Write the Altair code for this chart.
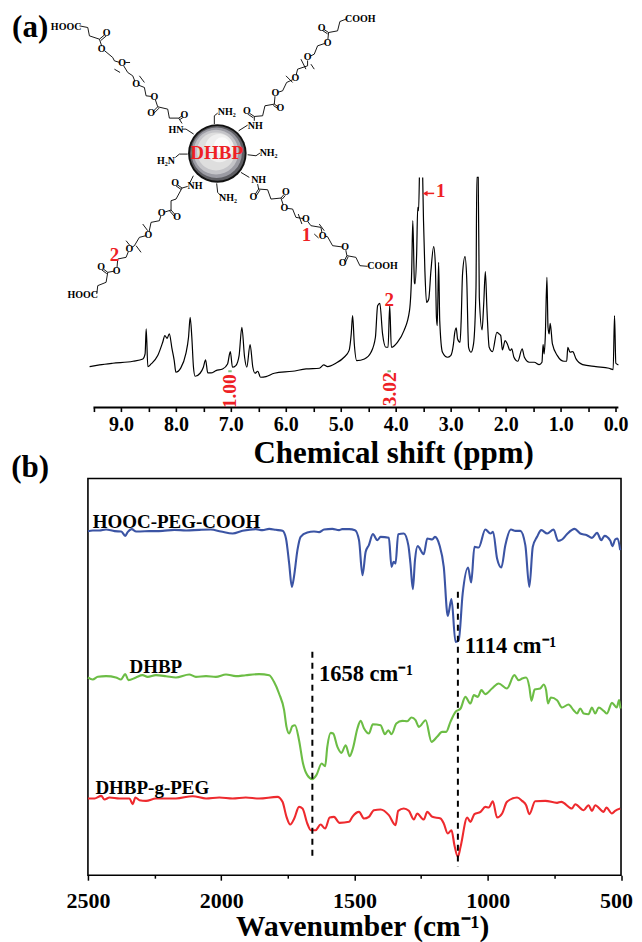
import altair as alt
import pandas as pd

FONT = "Liberation Serif"

# ---------- 1H NMR trace: chemical shift (ppm), signal position (larger = lower)
nmr_ppm = [9.57,9.39,9.15,8.78,8.60,8.56,8.54,8.51,8.45,8.33,8.24,8.20,8.16,8.12,8.07,8.03,8.00,7.91,7.82,7.77,7.74,7.71,7.68,7.65,7.56,7.50,7.46,7.42,7.36,7.27,7.15,7.06,7.01,6.97,6.91,6.85,6.80,6.75,6.71,6.65,6.60,6.56,6.51,6.46,6.36,6.21,5.88,5.63,5.39,5.31,5.24,5.09,4.94,4.85,4.81,4.785,4.754,4.71,4.57,4.45,4.37,4.33,4.29,4.24,4.18,4.14,4.11,4.08,3.97,3.85,3.75,3.71,3.69,3.66,3.65,3.62,3.60,3.585,3.57]
nmr_sig = [588,583,578,572,565,550,475,588,580,555,515,495,503,490,535,570,605,592,550,500,440,500,590,617,608,590,568,607,607,600,595,580,543,590,585,555,470,560,590,522,590,608,602,620,618,608,602,595,593,583,588,578,560,540,490,435,520,570,565,545,500,405,398,490,530,530,405,530,515,480,420,300,150,335,340,250,110,120,20]
nmr_ppm2 = [3.51,3.495,3.47,3.44,3.40,3.36,3.31,3.28,3.26,3.245,3.22,3.20,3.15,3.06,3.00,2.95,2.93,2.90,2.875,2.83,2.81,2.785,2.74,2.71,2.675,2.63,2.585,2.54,2.525,2.50,2.48,2.43,2.40,2.37,2.34,2.30,2.24,2.16,2.12,2.09,2.06,2.01,1.97,1.92,1.89,1.85,1.78,1.70,1.66,1.57,1.48,1.39,1.34,1.32,1.30,1.28,1.25,1.23,1.21,1.19,1.15,1.06,0.94,0.89,0.87,0.83,0.78,0.72,0.60,0.36,0.12,0.045,0.02,-0.004,-0.05]
nmr_sig2 = [20,150,300,395,385,300,228,280,440,465,275,450,545,560,555,520,490,472,505,515,450,310,258,320,530,545,520,350,20,20,380,478,400,303,420,530,543,485,490,495,538,510,520,540,535,560,572,535,560,575,575,582,575,522,550,500,320,470,490,458,520,555,572,572,530,545,543,565,582,588,593,597,435,578,583]

# ---------- FTIR traces
blue_wn = [2500,2482,2457,2432,2400,2375,2360,2351,2336,2319,2270,2220,2176,2132,2082,2039,2001,1957,1920,1870,1845,1820,1795,1770,1757,1745,1735,1727,1714,1702,1677,1652,1633,1614,1583,1558,1546,1520,1498,1483,1470,1458,1446,1431,1414,1402,1371,1361,1353,1346,1336,1315,1298,1290,1281,1273,1263,1240,1227,1208,1198,1181,1165,1150,1136,1121,1109,1094,1074,1062,1050,1034,1009,990,980,965,949,934,913,896,878,859,844,831,815,799,777,753,736,721,703,674,653,628,609,590,574,562,540,532,522,513,503]
blue_val = [183,181,181,178,183,184,197,186,177,184,183,182,179,181,179,178,184,190,182,177,180,176,179,182,205,280,350,320,240,200,187,184,186,178,176,180,177,177,180,210,315,245,225,192,210,200,203,290,275,280,192,190,225,280,357,270,228,252,205,208,200,225,290,437,387,515,510,370,292,337,230,232,178,190,185,265,292,225,178,182,182,225,350,230,200,180,190,178,212,208,192,176,190,195,203,188,210,197,212,228,208,205,240]

green_wn = [2500,2482,2463,2432,2395,2376,2360,2348,2320,2295,2276,2245,2207,2170,2120,2095,2057,2020,1982,1945,1908,1858,1820,1802,1783,1764,1755,1745,1733,1723,1708,1693,1677,1658,1643,1623,1610,1602,1589,1580,1564,1549,1533,1518,1506,1489,1477,1464,1446,1431,1402,1386,1373,1361,1343,1321,1302,1286,1271,1258,1233,1211,1190,1171,1156,1140,1121,1102,1084,1065,1052,1037,1024,1009,984,959,928,900,884,871,856,844,836,824,803,790,781,774,763,740,721,697,678,665,653,640,622,609,597,584,565,553,534,516,507,502]
green_val = [622,628,620,618,622,628,612,630,622,615,620,615,618,622,613,620,618,620,613,618,615,612,615,635,670,720,770,790,768,765,810,880,915,927,915,880,888,830,788,790,830,848,825,858,835,775,752,775,790,762,765,792,780,792,760,752,753,742,750,770,750,815,800,785,785,755,725,715,680,700,675,680,660,672,655,640,655,615,630,625,622,650,692,658,655,643,660,700,682,690,712,703,720,730,715,730,732,712,730,712,722,730,698,712,690,715]

red_wn = [2500,2475,2450,2438,2419,2382,2344,2332,2322,2307,2282,2245,2207,2170,2107,2057,2007,1957,1908,1858,1789,1770,1755,1741,1726,1708,1695,1677,1664,1646,1627,1610,1593,1577,1556,1520,1508,1483,1464,1446,1427,1402,1371,1346,1336,1315,1296,1277,1265,1240,1227,1208,1177,1165,1150,1136,1125,1112,1102,1077,1065,1050,1027,1009,996,981,965,946,928,890,871,856,844,822,784,740,724,684,672,640,622,609,597,565,555,534,522,503]
red_val = [985,985,977,988,982,985,985,1002,982,990,992,985,985,985,978,985,982,985,982,985,980,995,1040,1063,1045,1010,1015,1060,1080,1080,1063,1075,1042,1040,1058,1055,1040,1025,1045,1040,1020,1018,1035,1065,1022,1015,1022,1048,1030,1048,1025,1040,1045,1060,1090,1080,1125,1160,1130,1042,1055,1032,1025,1010,1012,993,1042,1030,995,982,992,1005,1032,993,992,998,995,1015,1002,1020,1005,1022,1005,1025,1012,1030,1022,1015]

# ---------- IR annotations
ir_labels = ["HOOC-PEG-COOH", "DHBP", "DHBP-g-PEG"]
ir_label_wn = [2482, 2344, 2472]
ir_label_y = [157, 590, 953]
peak_labels = ["1658 cm⁻¹", "1114 cm⁻¹"]
peak_label_wn = [1633, 1086]
peak_label_y = [612, 527]
peak_wn = [1658, 1112]
peak_top = [545, 365]
peak_bottom = [1165, 1190]

# ---------- molecule sketch (positions in sketch units)
arm_ul = [(583,400),(560,385),(548,385)], [(548,368),(538,352),(510,352),(505,325),(475,318),(465,288),(440,285),(435,260),(410,250),(400,225),(385,215),(368,187),(345,180),(340,170),(310,145),(300,115),(270,105),(265,80),(240,75)]
arm_ur = [(718,390),(745,373)], [(765,360),(765,347),(790,345),(797,315),(825,310),(828,277),(850,270),(862,245),(888,233),(895,205),(925,195),(925,170),(945,160),(955,135),(985,125),(988,95),(1015,90),(1022,62),(1040,55)]
arm_lr = [(725,515),(750,530)], [(775,550),(778,565),(805,567),(815,595),(845,592),(855,622),(880,625),(890,650),(920,655),(935,675),(965,680),(970,705),(985,708),(1000,735),(1038,740),(1043,765),(1070,770),(1082,795),(1105,797)]
arm_ll = [(582,525),(572,545)], [(565,557),(548,562),(530,595),(515,600),(515,628),(487,637),(480,660),(455,665),(447,703),(420,710),(405,735),(390,745),(380,770),(355,775),(352,810),(325,815),(320,845),(295,855),(292,880)]
amine_bonds = [[(645,370),(645,345),(655,337)], [(745,462),(770,465),(782,457)], [(565,460),(540,460),(528,470)], [(652,548),(655,575),(665,585)]]
brackets = [[(420,225),(435,245)], [(378,185),(392,185)], [(345,205),(362,215)], [(860,225),(880,245)], [(905,175),(920,205)], [(935,190),(945,205)], [(897,640),(908,670)], [(960,670),(975,690)], [(945,700),(958,712)], [(430,670),(445,690)], [(410,735),(425,755)], [(380,720),(392,735)]]
carbonyls = [[(538,352),(553,342)], [(542,356),(557,346)], [(475,318),(458,335)], [(479,322),(462,339)], [(300,115),(318,100)], [(304,119),(322,104)],
             [(765,347),(747,335)], [(762,351),(744,339)], [(825,310),(840,320)], [(822,314),(837,324)], [(988,95),(970,83)], [(985,99),(967,87)],
             [(778,565),(765,585)], [(782,568),(769,588)], [(845,592),(857,578)], [(849,595),(861,581)], [(1043,765),(1033,785)], [(1047,768),(1037,788)],
             [(548,562),(531,550)], [(545,566),(528,554)], [(515,628),(530,645)], [(511,631),(526,648)], [(325,815),(309,803)], [(322,819),(306,807)]]
oxygens_x = [555,455,465,410,368,307,322, 743,843,828,888,925,985,967, 762,860,855,920,970,1038,1030, 527,533,487,447,390,352,305]
oxygens_y = [342,338,288,250,187,145,97, 332,323,277,233,170,125,80, 588,575,622,655,705,740,788, 547,648,637,703,745,810,800]
groups = ["HOOC","COOH","COOH","HOOC","HN","NH","NH","NH","NH₂","NH₂","H₂N","NH₂"]
groups_x = [200,1083,1150,250,530,768,778,587,682,808,500,686]
groups_y = [77,55,797,883,387,377,538,557,335,457,480,592]
sphere_x = [654,654,652,650,650,660,668]
sphere_y = [458,458,456,454,452,442,434]
sphere_size = [3434,3000,2550,2000,1450,800,260]
sphere_col = ["#111111","#5e5e63","#9b9ba3","#c4c4c8","#dedede","#efefef","#fbfbfb"]
red_labels = ["DHBP","1","2","2","1"]
red_x = [652,922,345,1170,1325]
red_y = [457,702,762,898,572]
red_size = [19,19,19,19,19]
arrow_x = [1278,1305]
arrow_y = [578,578]
integrals = ["1.00","3.02"]
integral_x = [692,1172]
integral_y = [1172,1166]
int_tick_x = [692,1170]
int_tick_y = [1112,1112]
panel_a = ["(a)"]
panel_a_x = [92]
panel_a_y = [80]
panel_b = ["(b)"]
panel_b_x = [92]
panel_b_y = [-5]

W, H_A, H_B = 533.5, 397, 397
pX = alt.Scale(domain=[9.6, -0.098], nice=False, zero=False)
pY = alt.Scale(domain=[711, -480], nice=False, zero=False)
sX = alt.Scale(domain=[265.5, 1866], nice=False, zero=False)
sY = alt.Scale(domain=[1221, 30], nice=False, zero=False)
irX = alt.Scale(domain=[2500, 500], nice=False, zero=False)
irY = alt.Scale(domain=[1215, 25], nice=False, zero=False)


def polylines(lines):
    rows = []
    for k, ln in enumerate(lines):
        for i, (x, y) in enumerate(ln):
            rows.append({"k": k, "i": i, "x": x, "y": y})
    return pd.DataFrame(rows)


def sx(f="x"):
    return alt.X(f"{f}:Q", scale=sX, axis=None)


def sy(f="y"):
    return alt.Y(f"{f}:Q", scale=sY, axis=None)


def ix(f="x"):
    return alt.X(f"{f}:Q", scale=irX, axis=None)


def iy(f="y"):
    return alt.Y(f"{f}:Q", scale=irY, axis=None)


# --- panel (a)
nmr_df = pd.DataFrame({
    "ppm": nmr_ppm + nmr_ppm2,
    "sig": nmr_sig + nmr_sig2,
    "seg": ["a"] * len(nmr_ppm) + ["b"] * len(nmr_ppm2),
    "i": list(range(len(nmr_ppm) + len(nmr_ppm2))),
})
nmr_axis = alt.Axis(
    values=[9.5 - 0.5 * i for i in range(20)], labelExpr="abs(datum.value % 1) < 0.01 ? format(datum.value, '.1f') : ''",
    domain=False, grid=False, tickColor="black", tickWidth=1.6, tickSize=4,
    labelFont=FONT, labelFontSize=20, labelFontWeight="bold", labelColor="black", labelPadding=3,
    labelFlush=False, labelOverlap=False, labelAngle=0,
    title="Chemical shift (ppm)", titleFont=FONT, titleFontSize=31, titleFontWeight="bold", titleColor="black",
    titleX=305.5, titleY=45.5, titleAlign="center", titleBaseline="middle",
)
nmr_line = alt.Chart(nmr_df).mark_line(color="black", strokeWidth=1.2, interpolate="monotone").encode(
    x=alt.X("ppm:Q", scale=pX, axis=nmr_axis),
    y=alt.Y("sig:Q", scale=pY, axis=None),
    detail="seg:N", order="i:Q",
)
axis_rule = alt.Chart(pd.DataFrame({"a": [9.5], "b": [-0.05]})).mark_rule(color="black", strokeWidth=2).encode(
    x=alt.X("a:Q", scale=pX, axis=None), x2="b:Q", y=alt.value(H_A),
)
chains = [c for arm in (arm_ul, arm_ur, arm_lr, arm_ll) for c in arm]
bonds = alt.Chart(polylines(chains + amine_bonds + brackets + carbonyls)).mark_line(color="black", strokeWidth=0.9).encode(
    x=sx(), y=sy(), detail="k:N", order="i:Q")
ox_df = pd.DataFrame({"x": oxygens_x, "y": oxygens_y, "t": ["O"] * len(oxygens_x)})
ox_bg = alt.Chart(ox_df).mark_circle(color="white", size=36, opacity=1).encode(x=sx(), y=sy())
ox_text = alt.Chart(ox_df).mark_text(font=FONT, fontSize=10, fontWeight="bold", color="black").encode(x=sx(), y=sy(), text="t:N")
gr_df = pd.DataFrame({"x": groups_x, "y": groups_y, "t": groups})
gr_text = alt.Chart(gr_df).mark_text(font=FONT, fontSize=10, fontWeight="bold", color="black").encode(x=sx(), y=sy(), text="t:N")
sph_df = pd.DataFrame({"x": sphere_x, "y": sphere_y, "s": sphere_size, "c": sphere_col, "i": range(len(sphere_x))})
sphere = alt.Chart(sph_df).mark_circle(opacity=1).encode(
    x=sx(), y=sy(), size=alt.Size("s:Q", scale=None, legend=None), color=alt.Color("c:N", scale=None, legend=None), order="i:Q")
red_df = pd.DataFrame({"x": red_x, "y": red_y, "t": red_labels, "s": red_size})
red_text = alt.Chart(red_df).mark_text(font=FONT, fontWeight="bold", color="#ee2024").encode(
    x=sx(), y=sy(), text="t:N", size=alt.Size("s:Q", scale=None, legend=None))
arrow = alt.Chart(pd.DataFrame({"x": arrow_x, "y": arrow_y, "i": [0, 1]})).mark_line(color="#ee2024", strokeWidth=1.5).encode(x=sx(), y=sy(), order="i:Q")
arrow_head = alt.Chart(pd.DataFrame({"x": arrow_x[:1], "y": arrow_y[:1]})).mark_point(
    shape="triangle-left", filled=True, color="#ee2024", size=30, opacity=1).encode(x=sx(), y=sy())
int_df = pd.DataFrame({"x": integral_x, "y": integral_y, "t": integrals})
int_text = alt.Chart(int_df).mark_text(font=FONT, fontSize=19.5, fontWeight="bold", color="#ee2024", angle=270).encode(x=sx(), y=sy(), text="t:N")
int_tick = alt.Chart(pd.DataFrame({"x": int_tick_x, "y": int_tick_y})).mark_point(shape="stroke", color="#7fbf7f", size=12, opacity=1).encode(x=sx(), y=sy())
a_text = alt.Chart(pd.DataFrame({"x": panel_a_x, "y": panel_a_y, "t": panel_a})).mark_text(
    font=FONT, fontSize=31, fontWeight="bold", color="black").encode(x=sx(), y=sy(), text="t:N")

top = alt.layer(
    nmr_line, axis_rule, bonds, ox_bg, ox_text, gr_text, sphere, red_text, arrow, arrow_head, int_text, int_tick, a_text
).resolve_scale(x="independent", y="independent").properties(
    width=W, height=H_A, view=alt.ViewBackground(stroke=None))

# --- panel (b)
ir_df = pd.concat([
    pd.DataFrame({"wn": blue_wn, "v": blue_val, "s": "HOOC-PEG-COOH", "c": "#3b54a4", "i": range(len(blue_wn))}),
    pd.DataFrame({"wn": green_wn, "v": green_val, "s": "DHBP", "c": "#6cbd45", "i": range(len(green_wn))}),
    pd.DataFrame({"wn": red_wn, "v": red_val, "s": "DHBP-g-PEG", "c": "#ee2a2e", "i": range(len(red_wn))}),
])
ir_axis = alt.Axis(
    values=[2500, 2250, 2000, 1750, 1500, 1250, 1000, 750, 500],
    labelExpr="datum.value % 500 == 0 ? datum.label : ''", format="d",
    grid=False, domain=False, tickColor="black", tickWidth=1.5,
    tickSize={"condition": {"test": "datum.value % 500 == 0", "value": 5}, "value": 3},
    labelOffset={"condition": {"test": "datum.value == 500", "value": -5}, "value": 0},
    labelFont=FONT, labelFontSize=22, labelFontWeight="bold", labelColor="black", labelPadding=10,
    labelFlush=False, labelOverlap=False, labelAngle=0,
    title="Wavenumber (cm⁻¹)", titleFont=FONT, titleFontSize=29.5, titleFontWeight="bold", titleColor="black",
    titleX=274.5, titleY=51.5, titleAlign="center", titleBaseline="middle",
)
ir_lines = alt.Chart(ir_df).mark_line(strokeWidth=2.1, interpolate="monotone").encode(
    x=alt.X("wn:Q", scale=irX, axis=ir_axis),
    y=iy("v"),
    color=alt.Color("c:N", scale=None, legend=None),
    detail="s:N", order="i:Q",
)
drop = alt.Chart(pd.DataFrame({"x": peak_wn, "a": peak_top, "b": peak_bottom})).mark_rule(
    color="black", strokeWidth=2, strokeDash=[6, 5]).encode(
    x=ix(), y=iy("a"), y2="b:Q")
names = alt.Chart(pd.DataFrame({"x": ir_label_wn, "y": ir_label_y, "t": ir_labels})).mark_text(
    font=FONT, fontSize=19, fontWeight="bold", color="black", align="left").encode(
    x=ix(), y=iy(), text="t:N")
peaks = alt.Chart(pd.DataFrame({"x": peak_label_wn, "y": peak_label_y, "t": peak_labels})).mark_text(
    font=FONT, fontSize=22.5, fontWeight="bold", color="black", align="left").encode(
    x=ix(), y=iy(), text="t:N")
b_text = alt.Chart(pd.DataFrame({"x": panel_b_x, "y": panel_b_y, "t": panel_b})).mark_text(
    font=FONT, fontSize=31, fontWeight="bold", color="black").encode(
    x=sx(), y=iy(), text="t:N")

bottom = alt.layer(ir_lines, drop, names, peaks, b_text).resolve_scale(x="independent", y="independent").properties(
    width=W, height=H_B, view=alt.ViewBackground(stroke="black", strokeWidth=1.6))

chart = alt.vconcat(top, bottom, spacing=71, bounds="flush").properties(
    padding={"left": 2, "top": 2.5, "right": 0, "bottom": 0},
    background="white",
)
chart.save("out.html", embed_options={"renderer": "svg", "actions": False})
